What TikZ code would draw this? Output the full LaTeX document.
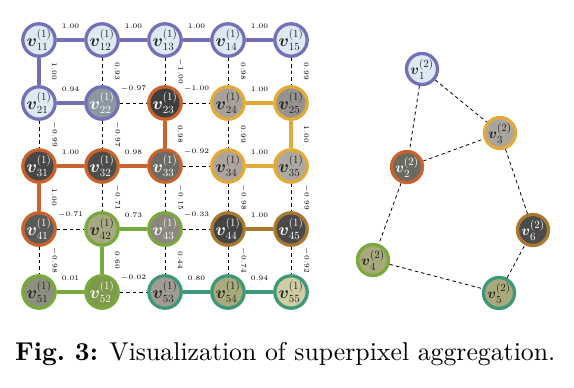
\documentclass[tikz,border=0pt]{standalone}
\usepackage{amsmath}
\usetikzlibrary{calc}
\definecolor{cPur}{HTML}{7470B5}
\definecolor{cLB}{HTML}{DDEAF6}
\definecolor{cOr}{HTML}{C9622B}
\definecolor{cYe}{HTML}{E2AA38}
\definecolor{cGr}{HTML}{79A83C}
\definecolor{cBr}{HTML}{A8782E}
\definecolor{cTe}{HTML}{3E9878}
\definecolor{txD}{HTML}{222222}
\definecolor{f22}{HTML}{8A98A0}
\definecolor{f23}{HTML}{3E3E3E}
\definecolor{f24}{HTML}{A9A29B}
\definecolor{f25}{HTML}{96928E}
\definecolor{f31}{HTML}{474747}
\definecolor{f32}{HTML}{4C4C4A}
\definecolor{f33}{HTML}{6C6B66}
\definecolor{f34}{HTML}{ABA59D}
\definecolor{f35}{HTML}{ADA9A1}
\definecolor{f41}{HTML}{5A5B59}
\definecolor{f42}{HTML}{A8A983}
\definecolor{f43}{HTML}{8B8680}
\definecolor{f44}{HTML}{444444}
\definecolor{f45}{HTML}{4A4A4A}
\definecolor{f51}{HTML}{8C917F}
\definecolor{f52}{HTML}{7D9A4B}
\definecolor{f53}{HTML}{A19B95}
\definecolor{f54}{HTML}{A9AA7C}
\definecolor{f55}{HTML}{CFCDA3}
\definecolor{fr2}{HTML}{6B6A62}
\definecolor{fr3}{HTML}{AAA49E}
\definecolor{fr6}{HTML}{4B4B4B}
\tikzset{
  vtx/.style={circle, minimum size=30.5pt, inner sep=0pt, line width=3.3pt, font=\fontsize{16}{18}\selectfont},
  rvtx/.style={circle, minimum size=31pt, inner sep=0pt, line width=3.3pt, font=\fontsize{15}{17}\selectfont},
  strong/.style={line width=3.3pt},
  weak/.style={black, line width=0.8pt, dash pattern=on 3.5pt off 3pt},
  elab/.style={font=\fontsize{5}{6}\selectfont, scale=1.4, inner sep=0pt, text=black}
}
\newcommand\hE[4]{\draw[#3] (#1) -- (#2) node[elab, midway, yshift=10pt]{$#4$};}
\newcommand\vE[4]{\draw[#3] (#1) -- (#2) node[elab, midway, xshift=11pt, rotate=-90]{$#4$};}
\newcommand\lab[1]{$\boldsymbol{v}^{(1)}_{#1}$}
\begin{document}
\begin{tikzpicture}[x=1pt,y=-1pt]
\useasboundingbox (0,0) rectangle (574,388);
% grid nodes
\node[vtx, draw=cPur, fill=cLB, text=txD] (n11) at (39,40) {\lab{11}};
\node[vtx, draw=cPur, fill=cLB, text=txD] (n12) at (102,40) {\lab{12}};
\node[vtx, draw=cPur, fill=cLB, text=txD] (n13) at (165,40) {\lab{13}};
\node[vtx, draw=cPur, fill=cLB, text=txD] (n14) at (228,40) {\lab{14}};
\node[vtx, draw=cPur, fill=cLB, text=txD] (n15) at (291,40) {\lab{15}};
\node[vtx, draw=cPur, fill=cLB, text=txD] (n21) at (39,103) {\lab{21}};
\node[vtx, draw=cPur, fill=f22, text=white] (n22) at (102,103) {\lab{22}};
\node[vtx, draw=cOr, fill=f23, text=white] (n23) at (165,103) {\lab{23}};
\node[vtx, draw=cYe, fill=f24, text=txD] (n24) at (228,103) {\lab{24}};
\node[vtx, draw=cYe, fill=f25, text=txD] (n25) at (291,103) {\lab{25}};
\node[vtx, draw=cOr, fill=f31, text=white] (n31) at (39,166) {\lab{31}};
\node[vtx, draw=cOr, fill=f32, text=white] (n32) at (102,166) {\lab{32}};
\node[vtx, draw=cOr, fill=f33, text=white] (n33) at (165,166) {\lab{33}};
\node[vtx, draw=cYe, fill=f34, text=txD] (n34) at (228,166) {\lab{34}};
\node[vtx, draw=cYe, fill=f35, text=txD] (n35) at (291,166) {\lab{35}};
\node[vtx, draw=cOr, fill=f41, text=white] (n41) at (39,229) {\lab{41}};
\node[vtx, draw=cGr, fill=f42, text=txD] (n42) at (102,229) {\lab{42}};
\node[vtx, draw=cGr, fill=f43, text=white] (n43) at (165,229) {\lab{43}};
\node[vtx, draw=cBr, fill=f44, text=white] (n44) at (228,229) {\lab{44}};
\node[vtx, draw=cBr, fill=f45, text=white] (n45) at (291,229) {\lab{45}};
\node[vtx, draw=cGr, fill=f51, text=txD] (n51) at (39,292) {\lab{51}};
\node[vtx, draw=cGr, fill=f52, text=white] (n52) at (102,292) {\lab{52}};
\node[vtx, draw=cTe, fill=f53, text=txD] (n53) at (165,292) {\lab{53}};
\node[vtx, draw=cTe, fill=f54, text=txD] (n54) at (228,292) {\lab{54}};
\node[vtx, draw=cTe, fill=f55, text=txD] (n55) at (291,292) {\lab{55}};
% horizontal edges
\hE{n11}{n12}{strong,cPur}{1.00}
\hE{n12}{n13}{strong,cPur}{1.00}
\hE{n13}{n14}{strong,cPur}{1.00}
\hE{n14}{n15}{strong,cPur}{1.00}
\hE{n21}{n22}{strong,cPur}{0.94}
\hE{n22}{n23}{weak}{-0.97}
\hE{n23}{n24}{weak}{-1.00}
\hE{n24}{n25}{strong,cYe}{1.00}
\hE{n31}{n32}{strong,cOr}{1.00}
\hE{n32}{n33}{strong,cOr}{0.98}
\hE{n33}{n34}{weak}{-0.92}
\hE{n34}{n35}{strong,cYe}{1.00}
\hE{n41}{n42}{weak}{-0.71}
\hE{n42}{n43}{strong,cGr}{0.73}
\hE{n43}{n44}{weak}{-0.33}
\hE{n44}{n45}{strong,cBr}{1.00}
\hE{n51}{n52}{strong,cGr}{0.01}
\hE{n52}{n53}{weak}{-0.02}
\hE{n53}{n54}{strong,cTe}{0.80}
\hE{n54}{n55}{strong,cTe}{0.94}
% vertical edges
\vE{n11}{n21}{strong,cPur}{1.00}
\vE{n21}{n31}{weak}{-0.99}
\vE{n31}{n41}{strong,cOr}{1.00}
\vE{n41}{n51}{weak}{-0.98}
\vE{n12}{n22}{weak}{0.93}
\vE{n22}{n32}{weak}{-0.97}
\vE{n32}{n42}{weak}{-0.71}
\vE{n42}{n52}{strong,cGr}{0.60}
\vE{n13}{n23}{weak}{-1.00}
\vE{n23}{n33}{strong,cOr}{0.98}
\vE{n33}{n43}{weak}{-0.15}
\vE{n43}{n53}{weak}{0.44}
\vE{n14}{n24}{weak}{0.98}
\vE{n24}{n34}{weak}{0.99}
\vE{n34}{n44}{weak}{-0.98}
\vE{n44}{n54}{weak}{-0.74}
\vE{n15}{n25}{weak}{0.99}
\vE{n25}{n35}{strong,cYe}{1.00}
\vE{n35}{n45}{weak}{-0.99}
\vE{n45}{n55}{weak}{-0.92}
% right graph
\node[rvtx, draw=cPur, fill=cLB, text=txD] (r1) at (422,69) {$\boldsymbol{v}^{(2)}_{1}$};
\node[rvtx, draw=cOr, fill=fr2, text=white] (r2) at (407,167) {$\boldsymbol{v}^{(2)}_{2}$};
\node[rvtx, draw=cYe, fill=fr3, text=txD] (r3) at (500,133) {$\boldsymbol{v}^{(2)}_{3}$};
\node[rvtx, draw=cGr, fill=f54, text=txD] (r4) at (373,260) {$\boldsymbol{v}^{(2)}_{4}$};
\node[rvtx, draw=cTe, fill=f54, text=txD] (r5) at (499,293) {$\boldsymbol{v}^{(2)}_{5}$};
\node[rvtx, draw=cBr, fill=fr6, text=white] (r6) at (533,230) {$\boldsymbol{v}^{(2)}_{6}$};
\draw[weak] (r1) -- (r2);
\draw[weak] (r1) -- (r3);
\draw[weak] (r2) -- (r3);
\draw[weak] (r3) -- (r6);
\draw[weak] (r2) -- (r4);
\draw[weak] (r4) -- (r5);
\draw[weak] (r5) -- (r6);
% caption
\node[anchor=base west, inner sep=0pt] (cap) at (15,360) {\resizebox{540pt}{!}{\textbf{Fig.~3:} Visualization of superpixel aggregation.}};
\end{tikzpicture}
\end{document}
